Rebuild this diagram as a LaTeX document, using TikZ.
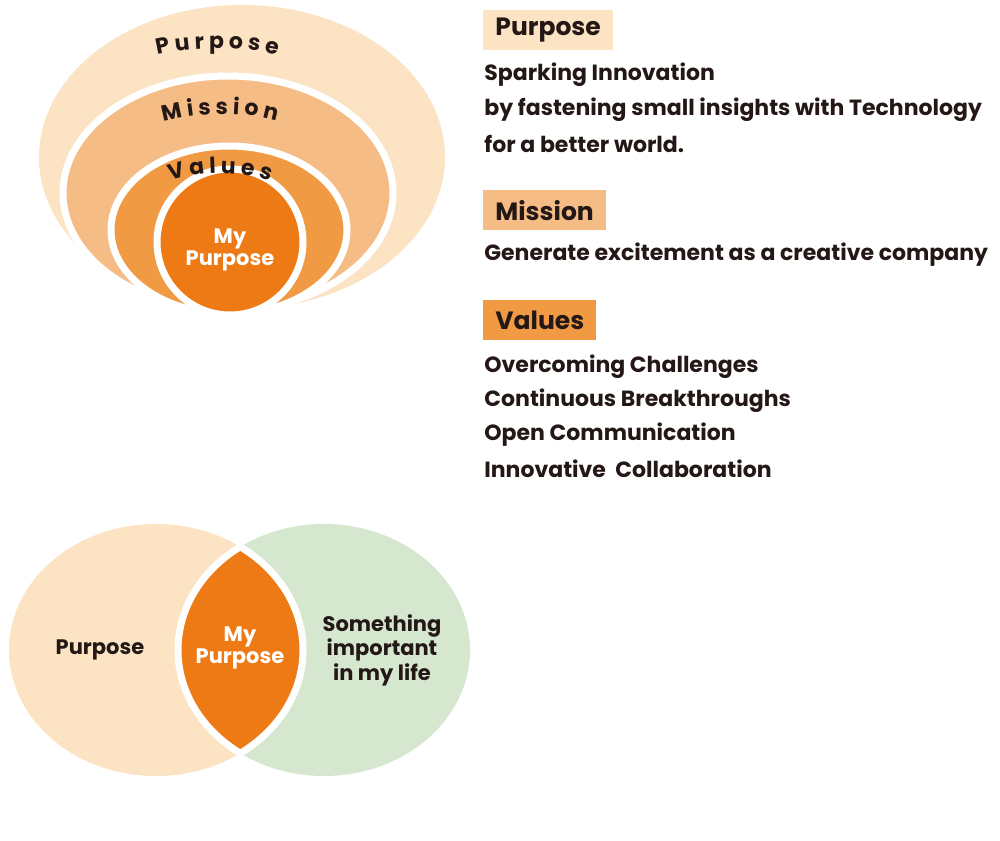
\documentclass[tikz,border=0pt]{standalone}
\usepackage{fontspec}
\setmainfont{Poppins}[UprightFont=* Bold]
\usetikzlibrary{decorations.text}
\definecolor{cPurpose}{HTML}{FBE3C4}
\definecolor{cMission}{HTML}{F5BC85}
\definecolor{cValues}{HTML}{F09A44}
\definecolor{cMine}{HTML}{EE7A16}
\definecolor{cLife}{HTML}{D5E8CF}
\definecolor{ink}{HTML}{231815}
\begin{document}
\begin{tikzpicture}[x=0.5pt,y=-0.5pt,
  layer/.style={draw=white,line width=3.5pt},
  headbox/.style={anchor=north west,inner xsep=6pt,minimum height=20pt,font=\fontsize{12.5}{14}\selectfont,text=ink},
  body/.style={anchor=west,font=\fontsize{11}{13}\selectfont,text=ink,inner sep=0pt},
  ctext/.style={align=center,font=\fontsize{10.5}{11}\selectfont}]
  \useasboundingbox (0,0) rectangle (1000,840);
  % nested layers
  \fill[cPurpose] (242,157) ellipse [x radius=203,y radius=152];
  \filldraw[layer,fill=cMission] (228,193) ellipse [x radius=165,y radius=117];
  \filldraw[layer,fill=cValues] (229,230) ellipse [x radius=118,y radius=84];
  \filldraw[layer,fill=cMine] (230,242) circle [radius=73];
  \node[ctext,text=white] (mine) at (230,250) {My\\Purpose};
  % curved labels
  \path[decorate,decoration={text along path,text align=center,
    text={|\fontsize{11}{12}\selectfont\color{ink}|P{ }u{ }r{ }p{ }o{ }s{ }e}}]
    (135,62) .. controls (180,44) and (255,44) .. (300,62);
  \path[decorate,decoration={text along path,text align=center,
    text={|\fontsize{11}{12}\selectfont\color{ink}|M{ }i{ }s{ }s{ }i{ }o{ }n}}]
    (150,126) .. controls (190,110) and (255,110) .. (290,126);
  \path[decorate,decoration={text along path,text align=center,
    text={|\fontsize{11}{12}\selectfont\color{ink}|V{ }a{ }l{ }u{ }e{ }s}}]
    (165,183) .. controls (195,170) and (245,170) .. (275,183);
  % right column
  \node[headbox,fill=cPurpose] (hp) at (483,10) {Purpose};
  \node[body] (p1) at (484,75) {Sparking Innovation};
  \node[body] (p2) at (484,110) {by fastening small insights with Technology};
  \node[body] (p3) at (484,144) {for a better world.};
  \node[headbox,fill=cMission] (hm) at (483,190) {Mission};
  \node[body] (m1) at (484,255) {Generate excitement as a creative company};
  \node[headbox,fill=cValues] (hv) at (483,300) {Values};
  \foreach \t [count=\i] in {Overcoming Challenges,Continuous Breakthroughs,Open Communication,Innovative\ \ Collaboration}
    \node[body] (v\i) at (484,333+34*\i) {\t};
  % venn
  \fill[cPurpose] (156,650) ellipse [x radius=147,y radius=126];
  \fill[cLife] (324,650) ellipse [x radius=146,y radius=126];
  \begin{scope}
    \clip (156,650) ellipse [x radius=147,y radius=126];
    \filldraw[layer,fill=cMine] (324,650) ellipse [x radius=146,y radius=126];
  \end{scope}
  \begin{scope}
    \clip (324,650) ellipse [x radius=146,y radius=126];
    \draw[layer] (156,650) ellipse [x radius=147,y radius=126];
  \end{scope}
  \node[ctext,text=ink] (vp) at (100,650) {Purpose};
  \node[ctext,text=white] (vm) at (240,648) {My\\Purpose};
  \node[ctext,text=ink] (vl) at (382,650) {Something\\important\\in my life};
\end{tikzpicture}
\end{document}
